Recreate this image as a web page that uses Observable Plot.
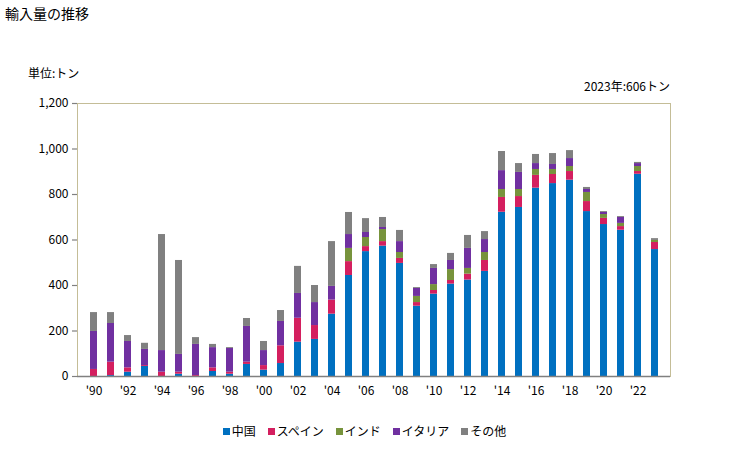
<!DOCTYPE html>
<html><head><meta charset="utf-8">
<script src="https://cdn.jsdelivr.net/npm/d3@7"></script>
<script src="https://cdn.jsdelivr.net/npm/@observablehq/plot@0.6"></script>
<style>
body{margin:0;background:#fff;font-family:"Noto Sans CJK JP","Noto Sans",sans-serif;}
#wrap{position:relative;width:729px;height:450px;overflow:hidden;}
.t{position:absolute;white-space:nowrap;color:#000;z-index:2;}
#title{left:5px;top:3px;font-size:14px;}
#unit{left:28px;top:64px;font-size:12px;}
#note{right:59px;top:77px;font-size:12px;}
#legend{position:absolute;left:0;width:729px;top:422px;text-align:center;font-size:12px;z-index:2;}
#legend span.item{margin:0 6px;}
#legend span.sw{display:inline-block;width:7px;height:7px;margin-right:2px;vertical-align:1px;}
#chart{position:absolute;left:0;top:0;z-index:1;}
</style></head>
<body><div id="wrap">
<div id="chart"></div>
<div id="title" class="t">輸入量の推移</div>
<div id="unit" class="t">単位:トン</div>
<div id="note" class="t">2023年:606トン</div>
<div id="legend"></div>
</div>
<script>
const years = [1990,1991,1992,1993,1994,1995,1996,1997,1998,1999,2000,2001,2002,2003,2004,2005,2006,2007,2008,2009,2010,2011,2012,2013,2014,2015,2016,2017,2018,2019,2020,2021,2022,2023];
const china = [0,4,19,44,0,10,0,22,10,53,28,57,151,163,274,444,549,573,497,309,362,406,424,462,722,743,828,848,863,725,668,643,889,558];
const spain = [31,59,19,4,19,9,4,16,9,10,20,78,105,61,62,61,22,20,22,16,16,16,26,48,65,48,56,40,38,44,27,16,12,31];
const india = [0,0,0,0,0,0,0,0,0,0,0,0,0,0,0,58,40,53,26,27,26,48,25,35,35,31,26,22,22,40,17,14,22,9];
const italy = [167,170,116,71,95,78,137,89,104,157,66,107,109,101,60,61,22,9,48,35,71,40,88,57,83,75,26,22,35,13,9,26,13,0];
const other = [83,48,26,27,510,413,30,14,4,35,40,48,119,75,197,97,61,44,49,4,17,31,57,35,84,39,40,48,35,9,4,4,5,8];
const seriesNames = ["中国","スペイン","インド","イタリア","その他"];
const seriesColors = ["#0070C0","#D41F5F","#77933C","#7030A0","#808080"];
const yTicks = [0,200,400,600,800,1000,1200];
const xTickYears = years.filter(y => y % 2 === 0);

const seriesValues = [china, spain, india, italy, other];
const rows = [];
years.forEach((yr, i) => {
  seriesNames.forEach((s, k) => rows.push({year: yr, series: s, value: seriesValues[k][i]}));
});

const plot = Plot.plot({
  width: 729,
  height: 410,
  marginLeft: 77,
  marginRight: 59,
  marginTop: 103,
  marginBottom: 34,
  style: {fontFamily: '"Noto Sans CJK JP","Noto Sans",sans-serif', fontSize: "12px", color: "#000", background: "transparent"},
  x: {type: "band", domain: years, padding: 0.6, axis: null},
  y: {domain: [0, 1200], axis: null},
  color: {domain: seriesNames, range: seriesColors},
  marks: [
    Plot.frame({stroke: "#C4BD97"}),
    Plot.barY(rows, {x: "year", y: "value", fill: "series", order: seriesNames}),
    Plot.ruleY([0], {stroke: "#808080", strokeWidth: 1.5}),
    Plot.axisY({ticks: yTicks, tickFormat: d3.format(","), tickSize: 5, tickPadding: 4, stroke: "#808080", line: true, strokeWidth: 1.2, fill: "#000", label: null, fontSize: 12}),
    Plot.axisX({ticks: xTickYears, tickFormat: d => "'" + String(d).slice(2), tickSize: 0, tickPadding: 10, label: null, fontSize: 12, fill: "#000"})
  ]
});
document.getElementById("chart").appendChild(plot);

const lg = document.getElementById("legend");
seriesNames.forEach((s, k) => {
  const it = document.createElement("span");
  it.className = "item";
  it.innerHTML = `<span class="sw" style="background:${seriesColors[k]}"></span>${s}`;
  lg.appendChild(it);
});
</script>
</body></html>
